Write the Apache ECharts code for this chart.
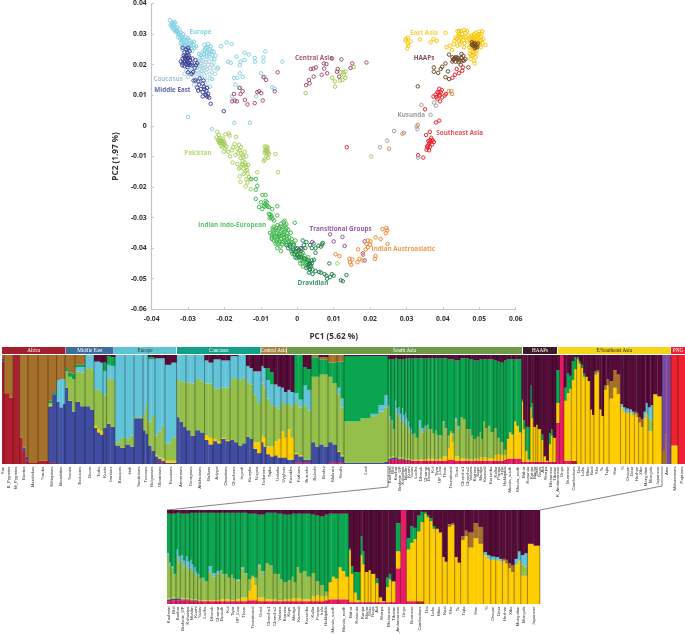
<!DOCTYPE html>
<html><head><meta charset="utf-8">
<style>html,body{margin:0;padding:0;background:#fff}#c{width:685px;height:634px}</style>
<script src="https://cdn.jsdelivr.net/npm/echarts@6/dist/echarts.min.js"></script>
</head><body><div id="c"></div>
<script>
// ---------- PCA points, in thousandths ----------
const europe=[[-35,34.5],[-34.5,33.5],[-34.8,33],[-34,34],[-34.2,32.8],[-33.8,33.2],[-34.5,32.5],[-33.5,32],[-33.8,31.5],[-33.2,31],[-33,32.2],[-32.8,30.5],[-33.5,30.8],[-32.5,30],[-32,29.5],[-32.8,29],[-32.2,28.5],[-31.5,29],[-31,28.2],[-31.8,27.8],[-32,27],[-31,27],[-30.5,27.5],[-30,26.5],[-31.2,26],[-30.2,25.8],[-29.5,27],[-29.8,25.5],[-31.5,25],[-30.5,24.8],[-29,25.5],[-28.8,24.5],[-25.5,26.5],[-24.5,26.8],[-25,25.5],[-24,25],[-23.8,26],[-25.5,24.5],[-24.8,24],[-23.5,24.5],[-26,24],[-24,23.5],[-23,24.2],[-25,23],[-27,23.5],[-26.5,23.2],[-22.5,23],[-21,26],[-19.4,27.3],[-18,26.7],[-16.7,22.6],[-14.5,23.9],[-13.3,23.3],[-8.8,24.3],[-11.7,22.2],[-9.3,22.4],[-9.3,21],[-11.6,21],[-4.1,21],[-14.5,21.5],[-15.6,21],[-15.8,19.8],[-19,21],[-18.3,20.6],[-21.8,19],[-15.8,17.2],[-23.4,15.3],[-17.4,15.7],[-16.5,15.7],[-15,16],[-17,13.5],[-16,12.4],[-18,9.6],[-11.3,9.6],[-10,17.2],[-9,16],[-6.9,12.6],[-6.3,12.2],[-30,2.9],[-23.4,-1.1],[-17.3,1],[-13,1],[-24,12.8],
[-34.2,31.8],[-33.6,33.8],[-33,31],[-32.4,31.5],[-32.6,29.8],[-32,30.5],[-31.4,30],[-31.6,28.3],[-30.8,29],[-30.4,28],[-30,28.6],[-29.6,28],[-29,27.2],[-28.6,26.5],[-28.2,25.5],[-30.8,26.5],[-29.2,26.2],[-28.4,27.5],[-27.8,26],[-31.6,26.6],[-30,24.8],[-24.6,25.8],[-25.4,25],[-24.2,24.2],[-24.8,22.6],[-23.4,23.2],[-25.6,23.4],[-26.2,22.4],[-26.8,22],[-23.6,22],[-22.8,21.8]];
const caucasus=[[-27,21],[-26.5,20.5],[-26,21],[-25.5,20],[-25,20.8],[-26.2,19.5],[-27.2,19.8],[-25.8,19],[-24.5,20],[-24,19],[-23.5,20],[-24.2,21],[-23,20.5],[-26.8,18.5],[-27.5,18],[-28,17.5],[-29,18.5],[-30,19],[-30.5,18],[-31,17],[-28.5,16.5],[-29.5,17],[-27.5,16],[-28,15],[-30,16],[-26.5,17],[-25,17.5],[-24,16.8],[-23.5,17.5],[-22,18.5],[-24,15.5],
[-26.6,19.2],[-25.2,19.2],[-24.8,18.6],[-25.6,18],[-26.2,18],[-27,17.2],[-28,19],[-28.8,17.8],[-29.6,18],[-27.8,20],[-26.4,21.6],[-25,21.6],[-23,19],[-22.6,17],[-25.4,16.2],[-26.2,15.6],[-24.8,14.8],[-25.2,13.4],[-28.4,13.4]];
const middleEast=[[-31.5,25.5],[-30.5,25],[-30,25.5],[-31,24],[-30.2,24],[-31.2,23],[-30.5,22.8],[-29.8,23],[-31.5,22],[-30.8,22],[-30,22],[-29.5,21.5],[-32,21],[-31,21],[-30.2,21],[-31.5,20.5],[-30.6,20.2],[-29.8,20.5],[-29,20.5],[-28,21.5],[-27.5,20.5],[-31,19.5],[-30.2,19.2],[-29,19.8],[-28.2,19],[-30,17.5],[-29,17],[-28.5,14.8],[-28,14.8],[-27.2,14.5],[-27,13.5],[-26.8,15.5],[-25.8,14.8],[-25.5,12],[-26.5,12],[-26,11],[-25,11.5],[-25.2,10.2],[-25,10],[-24.5,10.5],[-24.7,9.5],[-26,9.6],[-24.2,9.2],[-23.8,7.2],[-20.2,4.8],[-27.5,12.5],[-27.2,11.5],
[-31,22.4],[-30.4,21.6],[-29.6,22.2],[-30.8,20.8],[-31.6,19.8],[-30,20],[-29.4,20],[-30.2,23.2],[-29.6,24.4],[-28.8,22],[-27.8,19.8],[-28.6,17.6],[-26,13.8],[-25.6,12.8],[-24.8,12.4]];
const centralAsia=[[-17.4,10.4],[-15.8,12.4],[-15,11.3],[-15.6,10.4],[-17.9,8],[-17.2,8.3],[-16.6,8],[-14.4,8.5],[-13.7,7],[-11.7,7.4],[-11,11],[-10.5,11.3],[-9.9,10.7],[-9.5,8.3],[-6.2,11.3],[-9.3,15.9],[-8.6,15],[-5.4,17.5],[3.7,18.6],[4.4,18.7],[5.1,19.1],[7.3,20.4],[8,20.2],[7.4,18.7],[8.2,17.2],[6.7,16.7],[4.5,16.1],[3.2,15],[3.4,13.9],[2.4,13.3],[9.6,22],[12.1,21.7],[15.1,20.4],[14.6,18.9],[19,20.7],[11.1,18.6],[10.9,17.7],[11.5,16.1]];
const centralAsiaLight=[[11.9,17.5],[12.6,17.5],[13.2,17.8],[12.8,16.7],[13.2,15.7],[12.4,15],[11.7,14.8],[10.4,12.8],[10.3,14.5],[9.6,15.7],[15.5,19.2],[2.3,10.7]];
const eastAsia=[[29.8,28.4],[30.4,28.9],[29.8,27.8],[30.4,27],[31.1,27.6],[30.5,26.2],[30.2,25.3],[33.7,28.2],[36.6,27.3],[37.4,28.3],[38.3,27.8],[40.7,30.4],[44,30.9],[44.4,30],[45.8,31.3],[46.2,30.5],[45.3,30],[44.9,28.9],[46.2,29.1],[47.1,29.5],[43.5,28.9],[43.2,27.8],[44.4,27.8],[45.6,28],[46.7,28],[50.8,30.9],[49.9,30],[49,29.1],[50.4,29.1],[51.1,28.4],[48.5,28.4],[49.4,28],[50.2,27.6],[48.1,27.6],[49,27.3],[50.8,27],[51.7,26.4],[47.6,26.7],[48.5,26.7],[49.6,26.2],[50.5,25.7],[47.2,25.7],[48.4,25.7],[49.3,24.8],[47.6,24.6],[48.7,24],[47.4,23.5],[48.1,22.9],[49,22.4],[48.5,21.3],[48.7,20.4],[47.6,21.8],[43,26.7],[41.9,26.2],[41,25.7],[44,26.2],[44.7,26.7],[42.5,24.8],[45.8,25.7],
[49,30.5],[50,30.8],[50.6,30],[48.6,30],[48,29.6],[48.4,29],[49.6,29.4],[47.6,29],[47.2,28.4],[47.8,27.9],[48.9,28.2],[49.8,28.8],[50.6,28],[48.7,27.6],[49.6,27.4],[47.6,27.3],[50.2,26.6],[47.8,26],[48.2,25.2],[49,25.4],[48.2,24.2],[49.2,23.6],[47.8,23],[45,31],[44.4,31],[46.6,31],[45.6,29],[44.4,29.4],[45,27.4],[46,27],[43.8,28.4]];
const haaps=[[48,27.3],[48.7,27],[49.2,26.5],[48.3,26.2],[49.4,25.7],[49,25.9],[48,26.5],[48.8,25.4],[48.4,26.8],[49.6,26.9],[41.7,23.3],[42.6,22.4],[43,21.8],[43.8,22.4],[43.5,21],[42.6,21],[44.4,20.8],[45.1,23.5],[45.6,22.9],[45.1,22.2],[46.2,21.8],[45.8,21.3],[44.9,20],[40.7,20.4],[39.8,19.3],[39.4,18.6],[37.5,19.1],[37.5,17.7],[38.7,17.3],[41.4,17.8],[40.7,15.9],[41.7,15.3],[47,19.1],[33.1,12.9],[43.2,22],[44,21.6],[43.4,22.4],[44.6,21.4],[42.8,21.6],[44.2,22.2],[45.4,21.4]];
const seAsia=[[45.5,19.1],[45.3,18],[44.4,17.2],[43.3,16.7],[42.6,15.7],[43.8,18.6],[39,12.1],[39.7,11.7],[38.5,11],[38,10.2],[37.4,9.6],[39,9.9],[40.8,10.4],[40.5,9.9],[39.8,9.3],[38.5,8.8],[39.2,8],[35.1,5.4],[38.1,1.1],[39,1.7],[36.4,-2],[35.4,-3],[36.8,-3.9],[36.4,-4.8],[37.5,-5.3],[36.2,-5.7],[37,-6.1],[35.7,-6.7],[36.4,-6.9],[35.5,-7.8],[36.2,-8],[33.2,-9.6],[34.6,-10.4],[13.6,-7],[38.8,10.8],[39.2,10.2],[38.2,9.4],[39.4,11],[36,-5],[36.6,-5.4],[36.9,-4.6],[35.8,-7.2],[36,-6.4],[37.2,-4.8]];
const kusunda=[[34.1,6.8],[37.6,7.6],[38.1,6.6],[36.6,3.6],[32.8,-0.2],[33,-1.1],[29.3,-2.3],[26.6,-1.7],[24.7,-4.8],[22.7,-7],[33.2,-10.4]];
const pakistan=[[-22,-2],[-21.5,-3],[-21.2,-4],[-21.8,-4.5],[-21,-5],[-20.5,-4.2],[-22.2,-3.8],[-21.5,-5.5],[-20.8,-5.8],[-20.2,-5],[-20,-6.2],[-21,-6.5],[-20.5,-7],[-19.5,-6.8],[-19.8,-2.8],[-18.8,-2.5],[-18.6,-3.2],[-16.8,-3.6],[-17.2,-6],[-16,-6.2],[-17.6,-7],[-15.5,-7],[-16.5,-7.5],[-18,-8],[-19,-8.5],[-20.2,-8.5],[-14.5,-8.5],[-15.5,-9],[-17,-9.5],[-18.5,-10],[-14.8,-10.2],[-14,-10],[-17.8,-12],[-16.5,-12.5],[-15,-11.5],[-15.2,-12.5],[-14.2,-12.8],[-13.5,-12.8],[-14.8,-14],[-13.8,-14.5],[-16,-14],[-9,-6.8],[-8.5,-6.8],[-8.2,-7],[-8.8,-8],[-8.2,-8],[-8.5,-8.5],[-9,-8.8],[-8,-8.6],[-7.8,-9.2],[-6,-9.2],[-9,-11],[-9.2,-11.5],[-8.5,-10],[-8,-10.5],[-15.6,-13.6],[-14.2,-14.7],[-14.7,-15.7],[-13.3,-16.8],[-15.8,-16.5],[-13.7,-18.5],[-14.2,-19.8],[-12.8,-20.7],[-5.3,-15.2],[-11,-15.2],[-15.6,-18.3],[20.3,-10],[11,-45],
[-21.2,-4.6],[-20.8,-4.8],[-21.6,-5],[-20.6,-5.4],[-21.2,-5.6],[-20.4,-6],[-20,-5.6],[-19.8,-7.4],[-15.8,-8],[-16.2,-9],[-15,-9.6],[-15.6,-10.5],[-15,-12.8],[-14.4,-12],[-14,-13.4],[-8.6,-8],[-8.4,-9],[-8.4,-7.6],[-13.6,-15.6],[-13,-17.5],[-14,-17.5]];
const indoEuropean=[[-11.4,-17.4],[-12.6,-17.4],[-11,-19.6],[-11.4,-20.9],[-9.6,-22.6],[-8.7,-22.6],[-11.4,-23.9],[-10,-25],[-8.7,-24.5],[-10.5,-26.6],[-9.2,-26.1],[-8.4,-25.9],[-7.8,-26.6],[-9.6,-27.2],[-6.9,-27.2],[-5.5,-26.3],[-7.8,-28.8],[-7.3,-29.9],[-5.5,-29.3],[-6.4,-31],[-3.5,-31],[-0.7,-31.7],[-6.5,-33],[-5.5,-32.5],[-4.5,-32],[-3.8,-31.5],[-3,-32.2],[-6,-34],[-5,-33.5],[-4,-33],[-3,-33.5],[-2.5,-34],[-7.5,-35],[-6.5,-35.2],[-5.5,-35],[-4.5,-34.5],[-3.5,-34.8],[-2.8,-35.2],[-1.8,-35],[-7,-36.5],[-6,-36.3],[-5,-36],[-4,-35.8],[-3.2,-36.2],[-2.2,-36.5],[-6.5,-37.5],[-5.5,-37.2],[-4.5,-37],[-3.5,-37.4],[-2.5,-37.6],[-1.5,-37],[-6,-38.5],[-5,-38.2],[-4,-38],[-3,-38.5],[-4.6,-39.5],[-5.5,-40],[-4.5,-41],[-0.5,-37.5],[-7,-37],[-1,-40.5],[-0.3,-41.5],[0.5,-41],[1,-42],[1.5,-41.5],[2,-42.5],[0.3,-43],[1.2,-43.5],[2.2,-44],[1.5,-45],[2.5,-45],[0.8,-45],[3,-43],[1.6,-46],
[-5.8,-33.4],[-4.6,-33],[-3.4,-32.6],[-6.6,-34.2],[-5.4,-34.2],[-4.2,-34],[-3.2,-34],[-6.2,-35.8],[-5,-35.4],[-3.8,-35.4],[-2.8,-36],[-5.6,-36.4],[-4.4,-36],[-3.6,-36.6],[-5.8,-37.8],[-4.8,-37.6],[-3.8,-37.8],[-2.8,-37],[-4.2,-38.8],[-5.4,-38.6],[-2.2,-38],[-1.6,-38.2],[-1,-38.5],[-7,-35.6],[-6.8,-33.6],[-8.4,-25],[-8.8,-25.6],[-9,-26.4],[-8.2,-26.4],[-7.4,-29],[-7,-29.6],[-7.6,-30.2],[-6.8,-30.4],[0.2,-42],[1.2,-42.6],[1.8,-43.2],[2.6,-43.6],[0.8,-44],[1.8,-44.4],[2.8,-44.6],[-1.4,-41.8],[-0.6,-43]];
const dravidian=[[-3,-39],[-2,-39.5],[-1,-39],[-2.5,-40],[-1.2,-40.5],[0,-40],[-0.5,-41.2],[0.5,-40.5],[1,-41],[-0.8,-42],[0,-42.2],[-0.2,-43.2],[1,-43],[2,-43.5],[3,-44],[3.5,-44.8],[4,-45],[2.8,-45.5],[3.8,-46],[2.5,-46.5],[3.5,-47],[4.2,-47],[3.2,-48],[4.2,-48.5],[5,-47.5],[6,-47.8],[6.5,-48],[7.5,-48.5],[8,-49],[8.2,-50],[9,-49.5],[9.5,-48.5],[10,-49],[12,-50.5],[12.5,-50.8],[13.5,-48.8],[8.8,-45],[1.5,-37.5],[2.5,-38],[3.5,-39],[4,-40],[5,-40],[5,-41.5],[2.2,-40],[1.8,-39],[4.5,-38.5],[3.2,-45.2],[3.6,-45.6],[4,-44],[3,-46.2],[3.4,-46.8],[1,-40],[-1.6,-41],[-0.4,-40.2],[0.5,-42.8],[-2,-38.8],[5.8,-39.2],[4.6,-43.8],[6.5,-39.5],[7,-38.3],[6.8,-38.8]];
const transitional=[[9,-35.5],[12.4,-36.3],[10,-37.8],[13,-39.3],[18.5,-37.8],[18,-41.7],[18.5,-44],[4.1,-38],[1.4,-40.2]];
const austroasiatic=[[23.4,-33.8],[24.5,-33.4],[24.7,-34.2],[24.3,-35.1],[21.5,-36.5],[22.9,-37],[19.4,-37.5],[20.1,-37.8],[19,-38.6],[20,-38.9],[19.4,-39.7],[18.8,-40.4],[24.8,-38.6],[16.7,-40.4],[10.5,-42],[11.6,-42.6],[14.3,-43.5],[15.1,-43.7],[17.1,-43.5],[18.1,-42.2],[16.5,-44.6],[17.9,-44],[21.5,-42.6],[21.3,-43.5],[14.5,-44.6],[14.8,-45.4],[33.1,0.3],[28.9,-2.6],[25.2,-7.5],[42.3,11.3],[42.5,10.4],[41.6,11.3]];

// ---------- PCA group labels: text, x, y (thousandths) ----------
const pcaLabelText=['Europe','Caucasus','Middle East','Central Asia','Pakistan','East Asia','HAAPs','Kusunda','Southeast Asia','Indian Indo-European','Transitional Groups','Indian Austroasiatic','Dravidian'];
const pcaLabelX=[-26.6,-35.5,-34.3,4.6,-27.3,34.8,34.8,31.3,44.6,-17.9,11.9,29.1,4.3];
const pcaLabelY=[30.5,15.4,11.7,22.2,-8.9,30.3,22,3.5,-2.3,-32.5,-33.7,-40.4,-51.5];

// ---------- Ancestry bars: [name, width, red, pink, blue, yellow, lightGreen, cyan, green, tan, maroon, purple, brightRed] ----------
const africaRows=[
['San',2,94,0,3,0,0,0,0,3],
['B_Pygmies',5,65,0,0,0,0,0,0,35],['',4,61,0,0,0,0,0,0,39],
['M_Pygmies',6.5,100],
['Bantus',3,24,0,0,0,0,0,0,76],['',3,12,0,3,0,0,0,0,85],['',2.5,3,0,4,0,0,0,0,93],
['Mandinkas',10,1,0,0,0,0,0,0,99],
['Yoruba',10,3,0,0,0,0,0,0,97],
['Ethiopians',4,1,0,52,1,2,0,2,42],['',4.5,1,0,63,0,0,0,2,34],
['Mozabites',3,0,0,57,0,0,20,0,23],['',3,0,0,52,0,0,26,0,22],['',2.5,0,0,55,0,0,23,0,22]];
const middleEastRows=[
['Saudis',3,0,0,70,0,15,0,3,12],['',4,0,0,58,0,22,0,4,16],['',3,0,0,48,0,30,0,5,17],
['Bedouins',5,0,0,57,0,28,4,2,9],['',5,0,0,53,0,31,5,2,9],
['Druze',5,0,0,53,0,35,12],['',4,0,0,50,0,37,13],
['Turks',3,0,0,33,2,33,26,0,0,6],['',3,0,0,29,3,36,26,0,0,6],['',3,0,0,27,3,36,27,0,0,7],
['Kurds',3.5,0,0,33,0,30,22,8,0,7],
['Iranians',4,0,0,37,0,42,12,8,0,1],['',4.5,0,0,34,0,43,13,8,0,2]];
const europeRows=[
['Basques',5,0,0,17,0,3,80],['',5,0,0,15,0,9,76],
['Irish',5,0,0,18,0,5,77],['',4,0,0,16,0,10,74],
['Sardinians',9,0,0,42,0,1,57],
['Tuscans',2.5,0,0,31,0,15,54],['',2.5,0,0,28,0,27,45],
['Bulgarians',3.5,0,0,17,0,22,57,2,0,2],['',3.5,0,0,12,0,32,52,2,0,2],
['Ukrainians',3,1,0,6,1,18,71,0,0,3],['',3.5,1,0,4,1,24,67,0,0,3],['',3.5,1,0,2,2,30,62,0,0,3],
['Russians',6,0,0,1,2,16,72,0,0,9],['',5.5,0,0,1,2,21,69,0,0,7]];
const caucasusRows=[
['Armenians',3,0,0,43,0,35,22],['',3.5,0,0,39,0,37,24],['',3,0,0,34,0,41,25],
['Georgians',4.5,0,0,31,0,44,25],['',4.5,0,0,26,0,48,26],
['Abkhazians',5,0,0,31,0,47,22],['',4.5,0,0,29,0,47,24],
['Balkars',4,0,0,22,4,48,21,0,0,5],['',4.5,0,0,18,6,50,19,0,0,7],
['Adygei',4,0,0,21,2,46,27,0,0,4],['',4,0,0,19,2,48,27,0,0,4],
['Ossetians',4.5,0,0,23,1,46,25,0,0,5],['',4.5,0,0,21,1,48,25,0,0,5],
['Chechens',4,0,0,22,0,56,21,0,0,1],['',4,0,0,20,0,58,21,0,0,1],
['Ingush',4,0,0,17,0,60,23],['',4,0,0,19,0,60,21],
['Kumyks',3.5,0,0,25,0,50,15,0,0,10],['',3.5,0,0,23,0,50,15,0,0,12],
['Nogais',4,0,0,14,6,44,21,0,0,15],['',4,0,0,10,10,36,29,0,0,15],
['Turkmens',2.5,0,0,20,6,48,16,0,0,10],['',2.5,0,0,16,8,46,18,0,0,12]];
const centralAsiaRows=[
['Tajiks',4,0,0,9,7,44,17,11,0,12],['',4,0,0,7,9,38,19,11,0,16],
['Uzbeks',3.5,0,0,8,13,32,20,0,0,27],['',3.5,0,0,6,17,28,20,0,0,29],
['Uyghurs',3,0,0,6,24,27,13,0,0,30],['',3,0,0,6,18,31,11,0,0,34],
['Kazakhs',3.5,0,0,4,28,23,13,0,0,32],['',3.5,0,0,4,20,29,13,0,0,34]];
const southAsiaRows=[
['Pathans',4.5,0,1,8,1,46,9,35],['',4.5,0,1,6,1,44,7,41],
['Burusho',4,0,1,3,0,50,18,17,0,11],['',4,0,1,3,0,45,19,19,0,13],
['Balochi',4,0,0,20,0,60,0,18,2],['',4,0,0,16,0,64,0,18,2],
['Brahui',4.5,0,0,18,0,64,0,14,2,2],['',4.5,0,0,16,0,66,0,14,2,2],
['Makrani',4.5,0,1,19,0,60,0,13,7],['',4.5,0,1,17,0,56,0,19,7],
['Sindhi',3.5,0,1,10,1,52,6,24,6],['',3.5,0,1,6,1,44,8,34,6],
['Lodi',16,0,0,1,0,38,0,60,0,1],['',10,0,0,1,0,41,0,57,0,1],['',8,0,0,1,0,43,2,53,0,1],['',6,0,0,1,0,47,6,45,0,1],['',4,0,0,2,0,50,11,36,0,1],
['Kashmiri',1.5,0,3,2,1,45,3,42,0,4],['',1.4,0,3,2,1,35,3,52,0,4],
['Bhil',1.9,0,4,2,1,32,1,56,0,4],['',1.8,0,4,2,1,24,1,64,0,4],
['Kanbar',1.6,0,4,2,0,44,8,39,0,3],['',1.6,0,4,2,0,37,8,46,0,3],
['Brahmin_UP',1.9,0,4,1,1,40,6,44,0,4],['',1.8,0,4,1,1,34,6,50,0,4],
['Kshatriya',1.6,0,4,1,1,36,9,45,0,4],['',1.6,0,4,1,1,30,9,51,0,4],
['Muslim',1.5,0,3,1,1,34,8,50,0,3],['',1.4,0,3,1,1,29,8,55,0,3],
['Kurmi',1.5,0,3,1,1,29,5,58,0,3],['',1.4,0,3,1,1,25,4,63,0,3],
['Yadav',1.3,0,3,0,1,26,2,65,0,3],['',1.2,0,3,0,1,21,2,70,0,3],
['Lodha',2.6,0,3,0,1,24,0,69,0,3],['',2.5,0,3,0,1,20,0,73,0,3],
['Dhanuk',3,0,3,0,1,30,6,57,0,3],['',2.9,0,3,0,1,25,4,64,0,3],
['Chamar',2.7,0,3,0,1,28,3,62,0,3],
['Dusadh',1.9,0,3,0,2,30,1,61,0,3],['',1.8,0,3,0,2,26,1,65,0,3],
['Kol',2.1,0,3,0,2,27,0,65,0,3],['',2.1,0,3,0,2,23,0,69,0,3],
['Tiyar',1.9,0,3,0,1,27,0,66,0,3],['',1.8,0,3,0,1,23,0,70,0,3],
['UP_Low',3.7,0,3,0,2,20,1,71,0,3],
['Tharu',2.7,0,3,0,4,31,1,58,0,3],['',2.7,0,3,0,4,25,1,64,0,3],
['Transitional',2.3,0,4,0,10,12,0,70,0,4],['',2.3,0,4,0,24,2,0,66,0,4],['',2.3,0,4,0,16,8,0,68,0,4],
['Gond',2.8,0,3,0,4,33,2,53,0,5],['',2.8,0,3,0,4,26,2,60,0,5],
['Chenchu1',3,0,3,0,2,38,0,54,0,3],['',3.1,0,3,0,2,36,0,56,0,3],
['Chenchu2',2.9,0,3,0,2,27,0,65,0,3],
['Velama',2.2,0,3,0,1,28,0,64,0,4],['',2.2,0,3,0,1,22,0,70,0,4],
['Kamma',2.9,0,3,0,2,18,0,72,0,5],
['Kapu',2.9,0,3,0,2,20,0,70,0,5],
['Madiga',1.9,0,3,0,3,23,0,67,0,4],['',1.8,0,3,0,3,17,0,73,0,4],
['Kamsali',2.2,0,3,0,3,33,0,57,0,4],['',2.2,0,3,0,3,27,0,63,0,4],
['Kurumba',3.3,0,3,0,2,30,0,61,0,4],['',3.3,0,3,0,2,24,0,67,0,4],
['Kallar',3.2,0,3,0,5,25,0,62,0,5],
['Paniya',3.2,0,3,0,6,15,0,70,0,6],
['Irula',3.4,0,3,0,5,12,0,73,0,7],
['Hakkipikki',2.7,0,4,0,4,5,0,82,0,5],
['Munda_south',2.5,0,5,0,18,0,0,73,0,4],['',2.5,0,5,0,24,0,0,67,0,4],['',2.4,0,5,0,22,0,0,69,0,4],
['Munda_north',2.6,0,5,0,34,0,0,57,0,4],['',2.6,0,5,0,30,0,0,61,0,4],['',2.6,0,5,0,24,0,0,67,0,4]];
const haapsRows=[
['Birhor',1.6,0,2,0,55,0,0,2,0,41],['',2.1,0,2,0,30,0,0,8,0,60],
['Kusunda',2.3,0,2,0,10,0,0,22,0,66],['',2.4,0,2,0,2,0,0,30,0,66],
['Kanjar',1.7,0,2,0,50,0,0,20,0,28],['',1.7,0,2,0,40,0,0,14,0,44],
['Magar',2.5,0,2,0,32,0,0,0,0,66],['Garo',2,0,2,0,34,0,0,0,0,64],['Naga',3.4,0,2,0,30,0,0,0,0,68],
['Adi',2.4,0,2,0,20,0,0,5,0,73],
['Sherpa',2.4,0,2,0,5,0,0,0,0,93],['',2.5,0,2,0,1,0,0,0,0,97],
['Bhutanese',2.2,0,2,0,16,0,0,10,0,72],['',2.2,0,2,0,24,0,0,6,0,68],
['Tibetan',2.9,0,2,0,22,0,0,0,0,76]];
const eastAsiaRows=[
['K_Andamanese',3.7,0,38,0,18,0,0,30,0,14],
['Onge',4.4,0,100],
['Burmese',2.5,0,3,0,55,0,0,12,0,30],['',2.5,0,3,0,62,0,0,18,0,17],['',2.4,0,3,0,66,0,0,12,0,19],
['Cambodians',2.7,3,0,0,74,0,0,17,0,6],['',2.7,3,0,0,84,0,0,11,0,2],
['Dai',2.1,0,0,0,96,0,0,2,0,2],['',2.1,0,0,0,92,0,0,2,0,6],
['Lahu',2.2,0,0,0,88,0,0,3,0,9],['',2.2,0,0,0,80,0,0,3,0,17],
['Miao',2.4,0,0,0,80,0,0,0,0,20],['',2.5,0,0,0,76,0,0,0,0,24],
['Naxi',1.8,0,0,0,50,0,0,0,0,50],['',1.9,0,0,0,45,0,0,0,0,55],
['She',2.7,0,0,0,82,0,0,0,3,15],['',2.7,0,0,0,84,0,0,0,2,14],
['Tu',2.2,0,0,0,50,0,0,0,0,50],['',2.2,0,0,0,44,0,0,0,0,56],
['Tujia',2.7,0,0,0,68,0,0,0,4,28],['',2.7,0,0,0,72,0,0,0,6,22],
['Han',3.8,0,0,0,60,0,0,0,16,24],['',3.8,0,0,0,70,0,0,0,16,14],['',3.7,0,0,0,64,0,0,0,18,18],
['Yi',2.7,0,0,0,52,0,3,0,0,45],['',2.7,0,0,0,48,0,4,0,0,48],
['Oroqen',3.7,0,0,0,47,0,3,1,0,49],
['Daur',2.5,0,0,0,47,0,3,0,0,50],['',2.4,0,0,0,45,0,3,0,0,52],
['Hezhen',2.1,0,0,0,46,0,0,0,2,52],['',2.1,0,0,0,43,0,0,0,4,53],
['Xibo',2.2,0,0,0,38,0,0,0,5,57],['',2.2,0,0,0,34,0,0,0,7,59],
['Mongolian',2.4,0,0,0,42,0,6,0,0,52],['',2.5,0,0,0,46,0,10,0,0,44],
['Mongola',2.4,0,0,0,30,12,10,0,0,48],['',2.5,0,0,0,30,10,14,0,0,46],
['Japanese',4.5,0,0,0,64,0,0,0,0,36],['',4.6,0,0,0,62,0,0,0,0,38],
['Ainu',3,0,0,0,0,0,0,0,12,0,88],['',1.5,0,0,0,0,0,0,0,27,0,73],['',4.5,0,0,0,0,0,0,0,0,0,100]];
const pngRows=[
['Melanesians',7,0,0,0,17,0,0,0,0,0,0,83],
['Papuans',7,0,0,0,0,0,0,0,0,0,0,100]];

const componentColors=['#B01E2E','#EA1A64','#3F4C9F','#FFCC00','#94BF4A','#62C4D8','#0AA64F','#A4702A','#560B38','#7A4A9E','#EE2230'];

// ---------- Region header bands ----------
const regionNames=['Africa','Middle East','Europe','Caucasus','Central Asia','South Asia','HAAPs','E/Southeast Asia','PNG'];
const regionStart=[2,66,114,177,261,287,523,558,671];
const regionEnd=[65.5,113.5,176,260.5,286.5,522,557,670.5,685];
const regionColors=['#A31F2C','#3C6D9E','#5BC5D6','#12A089','#A4873F','#6C9A46','#3D1A28','#F7D417','#EE2038'];
const regionText=['#fff','#fff','#333','#fff','#fff','#fff','#fff','#222','#fff'];

const rows=[...africaRows,...middleEastRows,...europeRows,...caucasusRows,...centralAsiaRows,...southAsiaRows,...haapsRows,...eastAsiaRows,...pngRows];
const firstX=2, zoomFrom=388, zoomTo=662;

const slices=[], seps=[], pops=[];
let cur=firstX;
rows.forEach(r=>{
  const vals=r.slice(2);
  const sum=vals.reduce((a,b)=>a+b,0);
  let acc=0;
  vals.forEach((v,k)=>{ if(v>0){const v2=v/sum*100; slices.push({k,d:[cur,cur+r[1],acc,acc+v2]}); acc+=v2;} });
  if(r[0]){ seps.push(cur); pops.push({name:r[0],a:cur,b:cur+r[1]}); }
  else pops[pops.length-1].b=cur+r[1];
  cur+=r[1];
});

const rectItem=color=>(p,api)=>{
  const a=api.coord([api.value(0),api.value(2)]), b=api.coord([api.value(1),api.value(3)]);
  return {type:'rect',shape:{x:a[0],y:b[1],width:b[0]-a[0]+0.3,height:a[1]-b[1]},style:{fill:color}};
};
const barSeries=[];
function addPanel(ax,lo,hi,labelY){
  componentColors.forEach((c,k)=>{
    const data=slices.filter(s=>s.k===k&&s.d[0]>=lo-0.01&&s.d[1]<=hi+0.5).map(s=>s.d);
    barSeries.push({type:'custom',xAxisIndex:ax,yAxisIndex:ax,silent:true,encode:{x:[0,1],y:[2,3]},data,renderItem:rectItem(c),clip:true});
  });
  barSeries.push({type:'custom',xAxisIndex:ax,yAxisIndex:ax,silent:true,encode:{x:0,y:1},z:4,
    data:seps.filter(x=>x>lo+0.01&&x<hi).map(x=>[x,0]),
    renderItem:(p,api)=>{const a=api.coord([api.value(0),0]),b=api.coord([api.value(0),100]);
      return {type:'line',shape:{x1:a[0],y1:a[1],x2:b[0],y2:b[1]},style:{stroke:'rgba(10,10,10,.55)',lineWidth:.7}};}});
  const sel=pops.filter(p=>p.a>=lo-0.01&&p.b<=hi+0.5);
  barSeries.push({type:'custom',xAxisIndex:ax,yAxisIndex:ax,silent:true,clip:false,encode:{x:0,y:1},
    data:sel.map((p,i)=>[(p.a+p.b)/2,i]),
    renderItem:(p,api)=>{const a=api.coord([api.value(0),0]);
      return {type:'text',x:a[0],y:a[1]+labelY,rotation:Math.PI/2,
        style:{text:sel[api.value(1)].name,align:'right',verticalAlign:'middle',font:'4.3px "Liberation Sans"',fill:'#3a3a3a'}};}});
}
addPanel(1,firstX,685,2.5);
addPanel(2,zoomFrom,zoomTo,2.5);

barSeries.push({type:'custom',xAxisIndex:3,yAxisIndex:3,silent:true,clip:false,encode:{x:[0,1],y:2},
  data:regionNames.map((n,i)=>[regionStart[i],regionEnd[i],i]),
  renderItem:(p,api)=>{
    const i=api.value(2),a=api.coord([api.value(0),0]),b=api.coord([api.value(1),1]);
    return {type:'group',children:[
      {type:'rect',shape:{x:a[0],y:b[1],width:b[0]-a[0],height:a[1]-b[1]},style:{fill:regionColors[i]}},
      {type:'text',x:(a[0]+b[0])/2,y:(a[1]+b[1])/2,style:{text:regionNames[i],align:'center',verticalAlign:'middle',font:'5.2px "Liberation Serif"',fill:regionText[i]}}
    ]};
  }});

const toData=a=>a.map(p=>[p[0]/1000,p[1]/1000]);
const sc=(data,color)=>({type:'scatter',xAxisIndex:0,yAxisIndex:0,silent:true,symbol:'circle',symbolSize:3.5,data:toData(data),
  itemStyle:{color:'rgba(255,255,255,0)',borderColor:color,borderWidth:1,opacity:.95}});
const tickFmt=v=>String(+v.toFixed(2));
const chart=echarts.init(document.getElementById('c'),null,{renderer:'canvas'});
const axLine={show:true,onZero:false,lineStyle:{color:'#C4C4D0',width:1.2}};
const axLab={color:'#333',fontSize:6.8,fontWeight:'bold',fontFamily:'"Open Sans"',formatter:tickFmt};
const labelColors=['#6CCADB','#8FB4CC','#3240A0','#8A2F55','#A6CE5A','#F5C518','#5A1A30','#7F7F8A','#E4202C','#36B34A','#7A2E90','#E87F24','#127A44'];
chart.setOption({
  animation:false,
  grid:[
    {left:151.7,top:2.7,width:364,height:306.6},
    {left:2,top:355,width:683,height:109},
    {left:167,top:510,width:373,height:94},
    {left:2,top:347,width:683,height:7}
  ],
  xAxis:[
    {gridIndex:0,type:'value',min:-0.04,max:0.06,interval:0.01,splitLine:{show:false},axisLine:axLine,axisTick:{show:true,length:2,inside:true,lineStyle:{color:'#C4C4D0'}},axisLabel:{...axLab,margin:6},
      name:'PC1 (5.62 %)',nameLocation:'middle',nameGap:23,nameTextStyle:{color:'#333',fontSize:8.2,fontWeight:'bold',fontFamily:'"Open Sans"'}},
    {gridIndex:1,type:'value',min:firstX,max:685,show:false},
    {gridIndex:2,type:'value',min:zoomFrom,max:zoomTo,show:false},
    {gridIndex:3,type:'value',min:firstX,max:685,show:false}
  ],
  yAxis:[
    {gridIndex:0,type:'value',min:-0.06,max:0.04,interval:0.01,splitLine:{show:false},axisLine:axLine,axisTick:{show:true,length:2,inside:true,lineStyle:{color:'#C4C4D0'}},axisLabel:{...axLab,margin:5},
      name:'PC2 (1.97 %)',nameLocation:'middle',nameGap:31,nameTextStyle:{color:'#333',fontSize:8.2,fontWeight:'bold',fontFamily:'"Open Sans"'}},
    {gridIndex:1,type:'value',min:0,max:100,show:false},
    {gridIndex:2,type:'value',min:0,max:100,show:false},
    {gridIndex:3,type:'value',min:0,max:1,show:false}
  ],
  series:[
    sc(europe,'#7FD0E2'),sc(caucasus,'#A9D3E0'),sc(centralAsiaLight,'#9CC84B'),sc(centralAsia,'#A4466C'),sc(middleEast,'#3A3F97'),
    sc(pakistan,'#A4CE58'),sc(indoEuropean,'#3DB44B'),sc(dravidian,'#1F7F47'),sc(transitional,'#8E4B9E'),sc(austroasiatic,'#E8842C'),
    sc(eastAsia,'#F8C400'),sc(haaps,'#6B4423'),sc(seAsia,'#E8202A'),sc(kusunda,'#9A9AA8'),
    {type:'scatter',xAxisIndex:0,yAxisIndex:0,silent:true,symbolSize:0,z:5,
      data:pcaLabelText.map((t,i)=>({value:[pcaLabelX[i]/1000,pcaLabelY[i]/1000],label:{show:true,position:'inside',formatter:t,color:labelColors[i],fontSize:6.3,fontWeight:'bold',fontFamily:'"Open Sans"'}}))},
    ...barSeries
  ],
  graphic:[
    {type:'polyline',silent:true,shape:{points:[[388,466],[388,487],[167,510]]},style:{fill:'none',stroke:'#666',lineWidth:.8}},
    {type:'polyline',silent:true,shape:{points:[[662,466],[662,486],[540,510]]},style:{fill:'none',stroke:'#666',lineWidth:.8}}
  ]
});
</script></body></html>
